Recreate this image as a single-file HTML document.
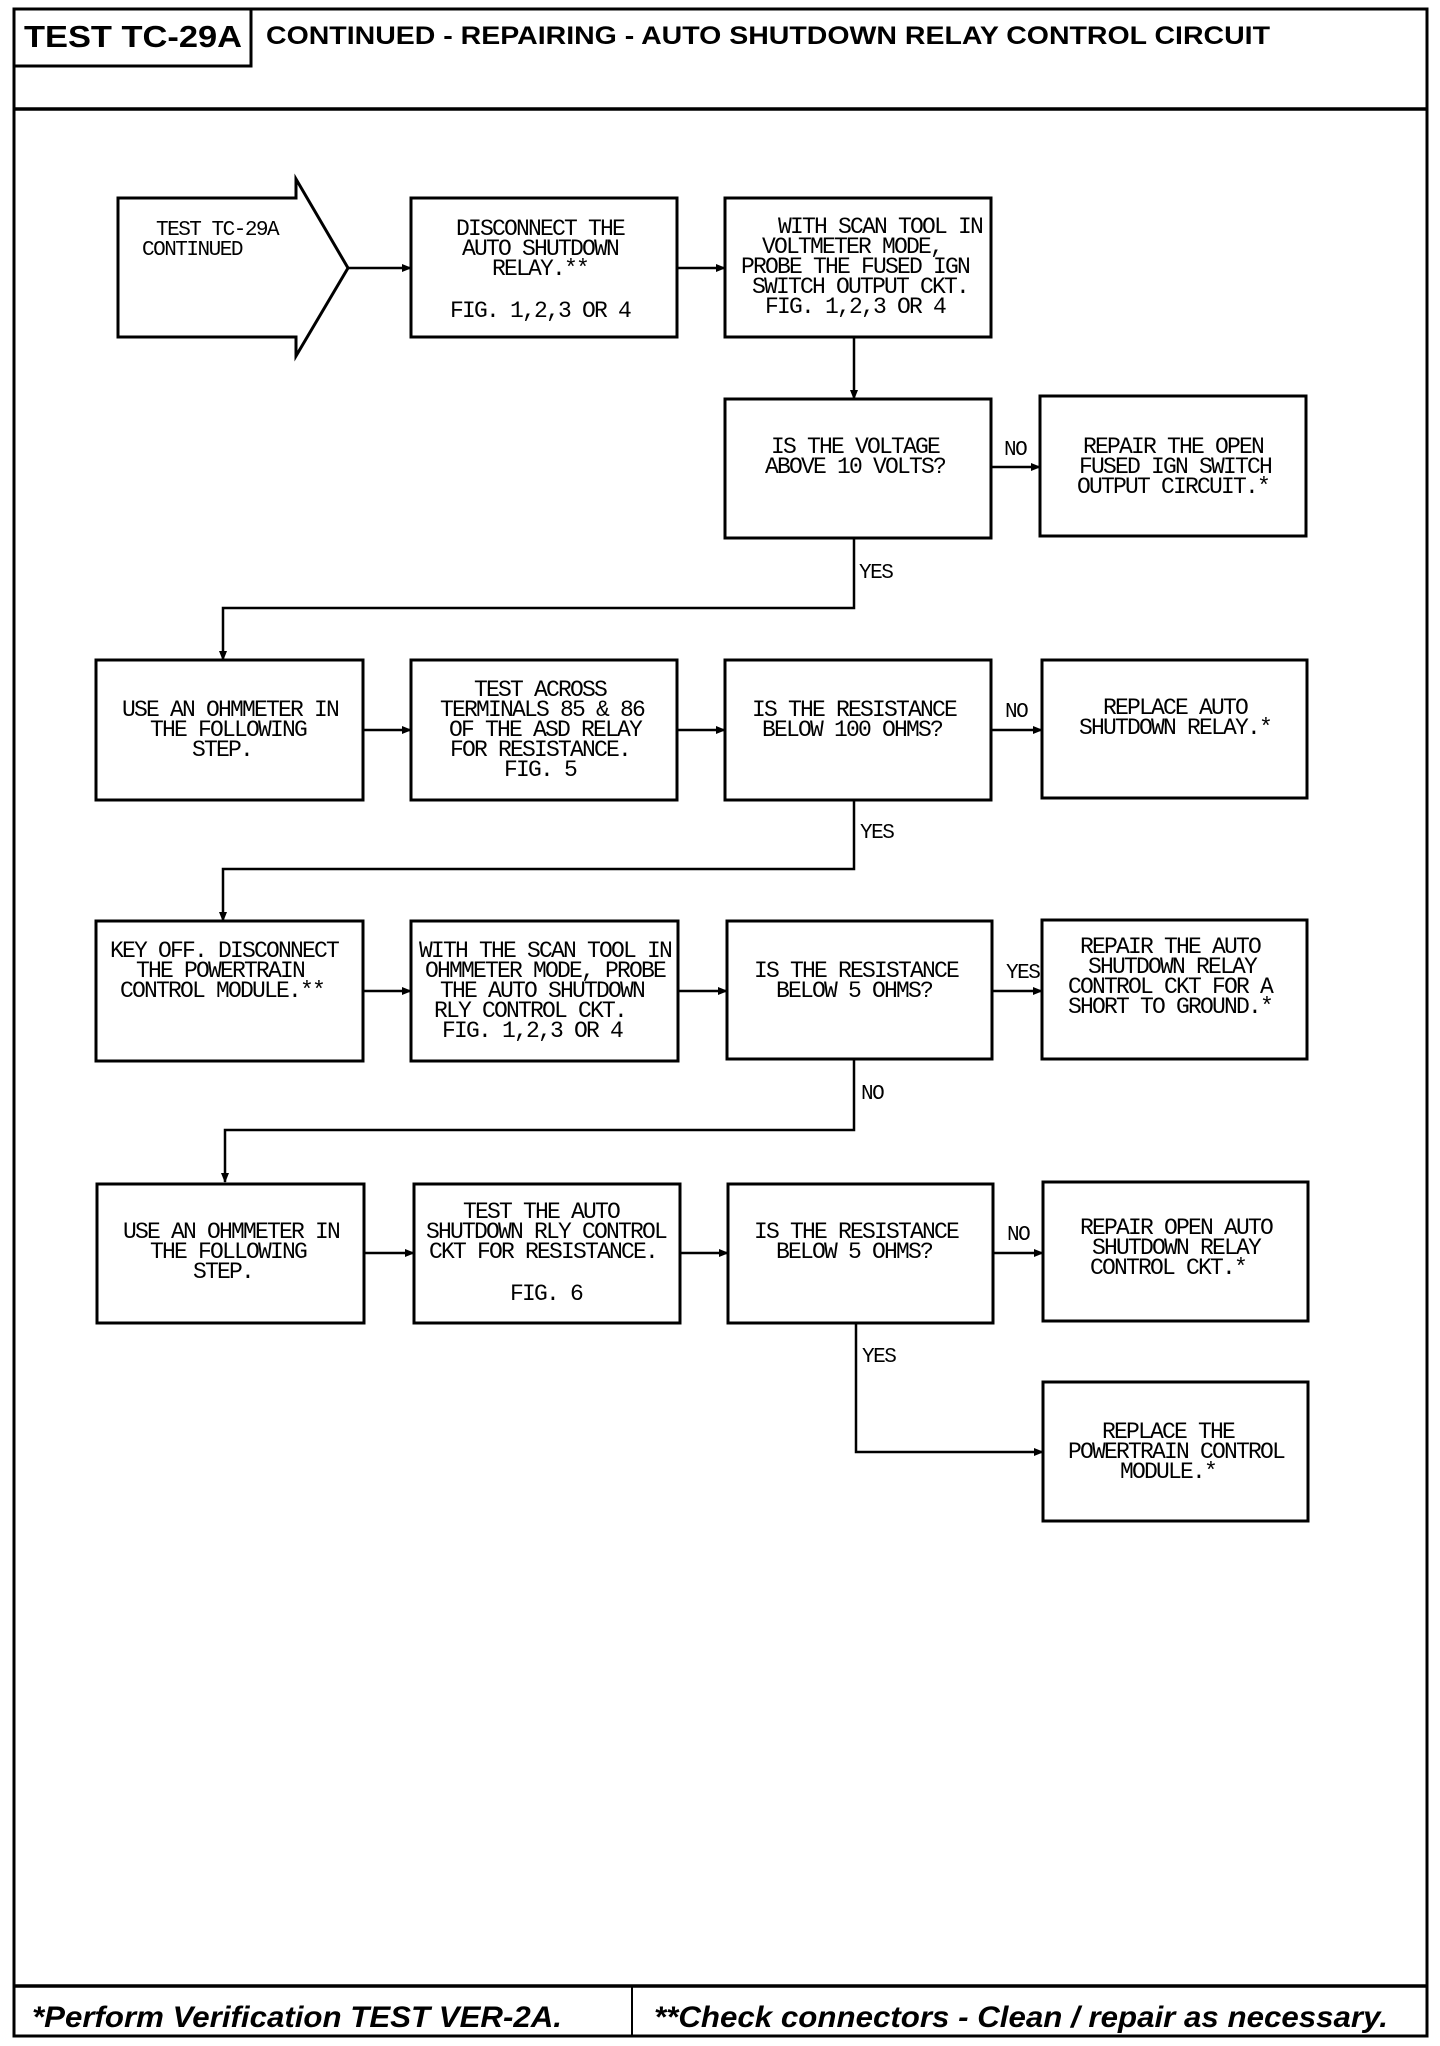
<!DOCTYPE html>
<html><head><meta charset="utf-8"><style>
html,body{margin:0;padding:0;background:#fff;}
svg{display:block}
.t{font-family:"Liberation Mono",monospace;font-size:23px;letter-spacing:-1.8px;fill:#000;text-anchor:middle}
.l{font-family:"Liberation Mono",monospace;font-size:21px;letter-spacing:-1.5px;fill:#000}
.b{fill:#fff;stroke:#000;stroke-width:3}
.c{fill:none;stroke:#000;stroke-width:2.5}
</style></head><body>
<svg width="1440" height="2046" viewBox="0 0 1440 2046" xmlns="http://www.w3.org/2000/svg">
<defs><marker id="a" markerWidth="10" markerHeight="8" refX="9" refY="4" orient="auto" markerUnits="userSpaceOnUse"><path d="M0,0 L10,4 L0,8 z" fill="#000"/></marker></defs>
<!-- frame -->
<rect x="14" y="9" width="1413" height="2027" fill="none" stroke="#000" stroke-width="3"/>
<line x1="14" y1="109" x2="1427" y2="109" stroke="#000" stroke-width="3.5"/>
<line x1="14" y1="1986" x2="1427" y2="1986" stroke="#000" stroke-width="3.5"/>
<line x1="632" y1="1986" x2="632" y2="2036" stroke="#000" stroke-width="2"/>
<polyline points="14,66 251,66 251,9" fill="none" stroke="#000" stroke-width="3"/>
<text x="24" y="47" font-family="Liberation Sans,sans-serif" font-weight="bold" font-size="31" textLength="218" lengthAdjust="spacingAndGlyphs">TEST TC-29A</text>
<text x="266" y="44" font-family="Liberation Sans,sans-serif" font-weight="bold" font-size="25" textLength="1004" lengthAdjust="spacingAndGlyphs">CONTINUED - REPAIRING - AUTO SHUTDOWN RELAY CONTROL CIRCUIT</text>
<text x="32" y="2027" font-family="Liberation Sans,sans-serif" font-weight="bold" font-style="italic" font-size="30" textLength="530" lengthAdjust="spacingAndGlyphs">*Perform Verification TEST VER-2A.</text>
<text x="654" y="2027" font-family="Liberation Sans,sans-serif" font-weight="bold" font-style="italic" font-size="30" textLength="734" lengthAdjust="spacingAndGlyphs">**Check connectors - Clean / repair as necessary.</text>

<!-- row 1 -->
<path d="M118,198 H296 V179 L348,268 L296,356 V337 H118 Z" class="b"/>
<text class="l" x="156" y="235">TEST TC-29A</text>
<text class="l" x="142" y="255">CONTINUED</text>
<rect x="411" y="198" width="266" height="139" class="b"/>
<text class="t" x="540" y="235">DISCONNECT THE</text>
<text class="t" x="540" y="255">AUTO SHUTDOWN</text>
<text class="t" x="540" y="275">RELAY.**</text>
<text class="t" x="540" y="317">FIG. 1,2,3 OR 4</text>
<rect x="725" y="198" width="266" height="139" class="b"/>
<text class="t" x="880" y="233">WITH SCAN TOOL IN</text>
<text class="t" x="852" y="253">VOLTMETER MODE,</text>
<text class="t" x="855" y="273">PROBE THE FUSED IGN</text>
<text class="t" x="860" y="293">SWITCH OUTPUT CKT.</text>
<text class="t" x="855" y="313">FIG. 1,2,3 OR 4</text>
<line x1="348" y1="268" x2="411" y2="268" class="c" marker-end="url(#a)"/>
<line x1="677" y1="268" x2="725" y2="268" class="c" marker-end="url(#a)"/>
<line x1="854" y1="337" x2="854" y2="399" class="c" marker-end="url(#a)"/>

<rect x="725" y="399" width="266" height="139" class="b"/>
<text class="t" x="855" y="453">IS THE VOLTAGE</text>
<text class="t" x="855" y="473">ABOVE 10 VOLTS?</text>
<rect x="1040" y="396" width="266" height="140" class="b"/>
<text class="t" x="1173" y="453">REPAIR THE OPEN</text>
<text class="t" x="1175" y="473">FUSED IGN SWITCH</text>
<text class="t" x="1173" y="493">OUTPUT CIRCUIT.*</text>
<line x1="991" y1="467" x2="1040" y2="467" class="c" marker-end="url(#a)"/>
<text class="l" x="1004" y="455">NO</text>
<polyline points="854,538 854,608 223,608 223,660" class="c" marker-end="url(#a)"/>
<text class="l" x="859" y="578">YES</text>

<!-- row 2 -->
<rect x="96" y="660" width="267" height="140" class="b"/>
<text class="t" x="230" y="716">USE AN OHMMETER IN</text>
<text class="t" x="228" y="736">THE FOLLOWING</text>
<text class="t" x="222" y="756">STEP.</text>
<rect x="411" y="660" width="266" height="140" class="b"/>
<text class="t" x="540" y="696">TEST ACROSS</text>
<text class="t" x="542" y="716">TERMINALS 85 &amp; 86</text>
<text class="t" x="545" y="736">OF THE ASD RELAY</text>
<text class="t" x="540" y="756">FOR RESISTANCE.</text>
<text class="t" x="540" y="776">FIG. 5</text>
<rect x="725" y="660" width="266" height="140" class="b"/>
<text class="t" x="854" y="716">IS THE RESISTANCE</text>
<text class="t" x="852" y="736">BELOW 100 OHMS?</text>
<rect x="1042" y="660" width="265" height="138" class="b"/>
<text class="t" x="1175" y="714">REPLACE AUTO</text>
<text class="t" x="1175" y="734">SHUTDOWN RELAY.*</text>
<line x1="363" y1="730" x2="411" y2="730" class="c" marker-end="url(#a)"/>
<line x1="677" y1="730" x2="725" y2="730" class="c" marker-end="url(#a)"/>
<line x1="991" y1="730" x2="1042" y2="730" class="c" marker-end="url(#a)"/>
<text class="l" x="1005" y="717">NO</text>
<polyline points="854,800 854,869 223,869 223,921" class="c" marker-end="url(#a)"/>
<text class="l" x="860" y="838">YES</text>

<!-- row 3 -->
<rect x="96" y="921" width="267" height="140" class="b"/>
<text class="t" x="224" y="957">KEY OFF. DISCONNECT</text>
<text class="t" x="220" y="977">THE POWERTRAIN</text>
<text class="t" x="222" y="997">CONTROL MODULE.**</text>
<rect x="411" y="921" width="267" height="140" class="b"/>
<text class="t" x="545" y="957">WITH THE SCAN TOOL IN</text>
<text class="t" x="545" y="977">OHMMETER MODE, PROBE</text>
<text class="t" x="542" y="997">THE AUTO SHUTDOWN</text>
<text class="t" x="530" y="1017">RLY CONTROL CKT.</text>
<text class="t" x="532" y="1037">FIG. 1,2,3 OR 4</text>
<rect x="727" y="921" width="265" height="138" class="b"/>
<text class="t" x="856" y="977">IS THE RESISTANCE</text>
<text class="t" x="854" y="997">BELOW 5 OHMS?</text>
<rect x="1042" y="920" width="265" height="139" class="b"/>
<text class="t" x="1170" y="953">REPAIR THE AUTO</text>
<text class="t" x="1172" y="973">SHUTDOWN RELAY</text>
<text class="t" x="1170" y="993">CONTROL CKT FOR A</text>
<text class="t" x="1170" y="1013">SHORT TO GROUND.*</text>
<line x1="363" y1="991" x2="411" y2="991" class="c" marker-end="url(#a)"/>
<line x1="678" y1="991" x2="727" y2="991" class="c" marker-end="url(#a)"/>
<line x1="992" y1="991" x2="1042" y2="991" class="c" marker-end="url(#a)"/>
<text class="l" x="1006" y="978">YES</text>
<polyline points="854,1059 854,1130 225,1130 225,1182" class="c" marker-end="url(#a)"/>
<text class="l" x="861" y="1099">NO</text>

<!-- row 4 -->
<rect x="97" y="1184" width="267" height="139" class="b"/>
<text class="t" x="231" y="1238">USE AN OHMMETER IN</text>
<text class="t" x="228" y="1258">THE FOLLOWING</text>
<text class="t" x="223" y="1278">STEP.</text>
<rect x="414" y="1184" width="266" height="139" class="b"/>
<text class="t" x="541" y="1218">TEST THE AUTO</text>
<text class="t" x="546" y="1238">SHUTDOWN RLY CONTROL</text>
<text class="t" x="543" y="1258">CKT FOR RESISTANCE.</text>
<text class="t" x="546" y="1300">FIG. 6</text>
<rect x="728" y="1184" width="265" height="139" class="b"/>
<text class="t" x="856" y="1238">IS THE RESISTANCE</text>
<text class="t" x="854" y="1258">BELOW 5 OHMS?</text>
<rect x="1043" y="1182" width="265" height="139" class="b"/>
<text class="t" x="1176" y="1234">REPAIR OPEN AUTO</text>
<text class="t" x="1176" y="1254">SHUTDOWN RELAY</text>
<text class="t" x="1168" y="1274">CONTROL CKT.*</text>
<line x1="364" y1="1253" x2="414" y2="1253" class="c" marker-end="url(#a)"/>
<line x1="680" y1="1253" x2="728" y2="1253" class="c" marker-end="url(#a)"/>
<line x1="993" y1="1253" x2="1043" y2="1253" class="c" marker-end="url(#a)"/>
<text class="l" x="1007" y="1240">NO</text>
<polyline points="856,1323 856,1452 1043,1452" class="c" marker-end="url(#a)"/>
<text class="l" x="862" y="1362">YES</text>
<rect x="1043" y="1382" width="265" height="139" class="b"/>
<text class="t" x="1168" y="1438">REPLACE THE</text>
<text class="t" x="1176" y="1458">POWERTRAIN CONTROL</text>
<text class="t" x="1168" y="1478">MODULE.*</text>
</svg>
</body></html>
